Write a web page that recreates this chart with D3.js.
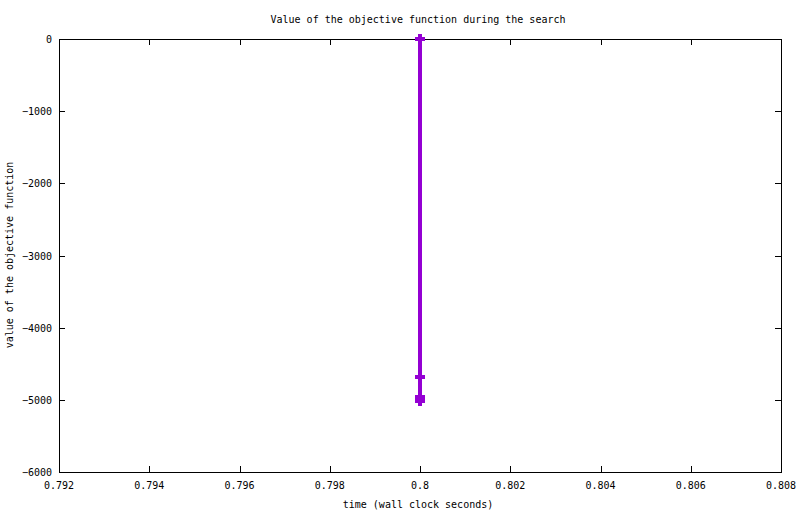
<!DOCTYPE html>
<html><head><meta charset="utf-8">
<script src="https://cdn.jsdelivr.net/npm/d3@7"></script>
<style>body{margin:0;background:#fff}svg{display:block}text{font-family:"DejaVu Sans Mono",monospace;font-size:10px;fill:#000}</style>
</head><body>
<script>
const times = [0.8, 0.8, 0.8, 0.8, 0.8, 0.8];
const values = [0, -4690, -4960, -4980, -5000, -5015];
const xTicks = [0.792, 0.794, 0.796, 0.798, 0.8, 0.802, 0.804, 0.806, 0.808];
const yTicks = [0, -1000, -2000, -3000, -4000, -5000, -6000];
const title = "Value of the objective function during the search";
const xLabel = "time (wall clock seconds)";
const yLabel = "value of the objective function";

const W = 800, H = 514;
const L = 59, R = 781, T = 39, B = 472;
const svg = d3.select("body").append("svg").attr("width", W).attr("height", H);
const x = d3.scaleLinear().domain([0.792, 0.808]).range([L, R]);
const y = d3.scaleLinear().domain([-6000, 0]).range([B, T]);
const tl = 6;

const g = svg.append("g").attr("shape-rendering", "crispEdges");
xTicks.forEach(t => {
  g.append("line").attr("x1", Math.round(x(t))+0.5).attr("x2", Math.round(x(t))+0.5).attr("y1", B).attr("y2", B - tl).attr("stroke", "#000");
  g.append("line").attr("x1", Math.round(x(t))+0.5).attr("x2", Math.round(x(t))+0.5).attr("y1", T).attr("y2", T + tl).attr("stroke", "#000");
  svg.append("text").attr("x", x(t)).attr("y", 489).attr("text-anchor", "middle").text(d3.format("")(t));
});
yTicks.forEach(t => {
  g.append("line").attr("x1", L).attr("x2", L + tl).attr("y1", Math.round(y(t))+0.5).attr("y2", Math.round(y(t))+0.5).attr("stroke", "#000");
  g.append("line").attr("x1", R).attr("x2", R - tl).attr("y1", Math.round(y(t))+0.5).attr("y2", Math.round(y(t))+0.5).attr("stroke", "#000");
  svg.append("text").attr("x", 52).attr("y", y(t) + 4).attr("text-anchor", "end").text(String(t).replace("-", "\u2212"));
});
g.append("rect").attr("x", L + 0.5).attr("y", T + 0.5).attr("width", R - L).attr("height", B - T).attr("fill", "none").attr("stroke", "#000");

svg.append("text").attr("x", 418).attr("y", 23).attr("text-anchor", "middle").text(title);
svg.append("text").attr("x", 418).attr("y", 508).attr("text-anchor", "middle").text(xLabel);
svg.append("text").attr("transform", "translate(13,255) rotate(-90)").attr("text-anchor", "middle").text(yLabel);

const data = times.map((t, i) => ({t, v: values[i]}));
const col = "#9400d3";
svg.append("path").datum(data)
  .attr("d", d3.line().x(d => x(d.t)).y(d => y(d.v)))
  .attr("fill", "none").attr("stroke", col).attr("stroke-width", 4).attr("shape-rendering", "crispEdges");
const pg = svg.append("g").attr("shape-rendering", "crispEdges");
data.forEach(d => {
  const cx = x(d.t), cy = y(d.v);
  pg.append("rect").attr("x", cx - 5).attr("y", cy - 2).attr("width", 10).attr("height", 4).attr("fill", col);
  pg.append("rect").attr("x", cx - 2).attr("y", cy - 5).attr("width", 4).attr("height", 10).attr("fill", col);
});
</script>
</body></html>
